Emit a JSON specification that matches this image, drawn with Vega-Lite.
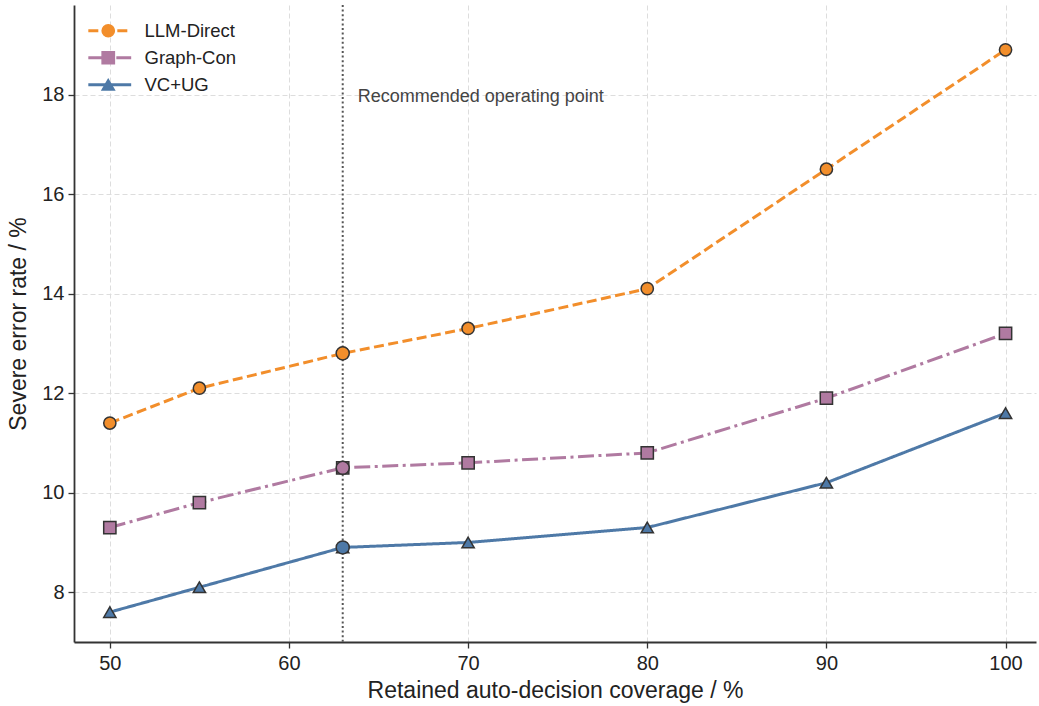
{
  "$schema": "https://vega.github.io/schema/vega-lite/v6.json",
  "width": 962,
  "height": 637,
  "autosize": {"type": "none"},
  "padding": {"left": 74, "top": 5, "right": 3, "bottom": 64},
  "background": "white",
  "config": {
    "font": "Liberation Sans",
    "view": {"stroke": null},
    "axis": {
      "domainColor": "#333333", "domainWidth": 1.8,
      "tickColor": "#333333", "tickWidth": 1.3, "tickSize": 6,
      "labelColor": "#222222", "labelFontSize": 20, "labelFont": "Liberation Sans",
      "titleColor": "#222222", "titleFontSize": 23, "titleFontWeight": "normal", "titleFont": "Liberation Sans",
      "gridColor": "#dddddd", "gridDash": [5, 3], "gridWidth": 1
    }
  },
  "datasets": {
    "series": [
      {"coverage": 50, "rate": 11.4, "method": "LLM-Direct"},
      {"coverage": 55, "rate": 12.1, "method": "LLM-Direct"},
      {"coverage": 63, "rate": 12.8, "method": "LLM-Direct"},
      {"coverage": 70, "rate": 13.3, "method": "LLM-Direct"},
      {"coverage": 80, "rate": 14.1, "method": "LLM-Direct"},
      {"coverage": 90, "rate": 16.5, "method": "LLM-Direct"},
      {"coverage": 100, "rate": 18.9, "method": "LLM-Direct"},
      {"coverage": 50, "rate": 9.3, "method": "Graph-Con"},
      {"coverage": 55, "rate": 9.8, "method": "Graph-Con"},
      {"coverage": 63, "rate": 10.5, "method": "Graph-Con"},
      {"coverage": 70, "rate": 10.6, "method": "Graph-Con"},
      {"coverage": 80, "rate": 10.8, "method": "Graph-Con"},
      {"coverage": 90, "rate": 11.9, "method": "Graph-Con"},
      {"coverage": 100, "rate": 13.2, "method": "Graph-Con"},
      {"coverage": 50, "rate": 7.6, "method": "VC+UG"},
      {"coverage": 55, "rate": 8.1, "method": "VC+UG"},
      {"coverage": 63, "rate": 8.9, "method": "VC+UG"},
      {"coverage": 70, "rate": 9.0, "method": "VC+UG"},
      {"coverage": 80, "rate": 9.3, "method": "VC+UG"},
      {"coverage": 90, "rate": 10.2, "method": "VC+UG"},
      {"coverage": 100, "rate": 11.6, "method": "VC+UG"}
    ],
    "marker": [
      {"coverage": 63, "rate": 17.95, "label": "Recommended operating point"}
    ]
  },
  "layer": [
    {
      "data": {"name": "marker"},
      "mark": {"type": "rule", "color": "#555555", "strokeWidth": 2, "strokeDash": [2, 2.6]},
      "encoding": {
        "x": {"field": "coverage", "type": "quantitative", "scale": {"domain": [48, 101.7], "nice": false},
          "axis": {"title": "Retained auto-decision coverage / %", "values": [50, 60, 70, 80, 90, 100], "grid": true, "labelPadding": 5, "titlePadding": 6}}
      }
    },
    {
      "data": {"name": "marker"},
      "mark": {"type": "text", "align": "left", "baseline": "middle", "dx": 15, "fontSize": 18, "color": "#444444", "font": "Liberation Sans"},
      "encoding": {
        "x": {"field": "coverage", "type": "quantitative"},
        "y": {"field": "rate", "type": "quantitative"},
        "text": {"field": "label"}
      }
    },
    {
      "data": {"name": "series"},
      "mark": {"type": "line", "strokeWidth": 3},
      "encoding": {
        "x": {"field": "coverage", "type": "quantitative"},
        "y": {"field": "rate", "type": "quantitative", "scale": {"domain": [7, 19.8], "nice": false, "zero": false},
          "axis": {"title": "Severe error rate / %", "values": [8, 10, 12, 14, 16, 18], "grid": true, "labelPadding": 4, "titlePadding": 11}},
        "color": {"field": "method", "type": "nominal",
          "scale": {"domain": ["LLM-Direct", "Graph-Con", "VC+UG"], "range": ["#F28E2B", "#B07AA1", "#4E79A7"]}},
        "strokeDash": {"field": "method", "type": "nominal", "sort": ["LLM-Direct", "Graph-Con", "VC+UG"],
          "scale": {"range": [[10, 4.5], [16, 4.5, 3, 4.5], [1, 0]]},
          "legend": {"title": null, "orient": "none", "legendX": 26.5, "legendY": 16.5, "padding": 0,
            "symbolType": "M-3.5,0H3.5", "symbolSize": 150, "symbolStrokeWidth": 3,
            "labelFontSize": 18.5, "labelOpacity": 0, "labelOffset": 10, "rowPadding": 8,
            "encode": {"symbols": {"update": {"stroke": {"scale": "color", "field": "value"}, "fill": {"value": "transparent"}, "strokeWidth": {"value": 3}}}}}}
      }
    },
    {
      "data": {"name": "series"},
      "mark": {"type": "point", "filled": true, "size": 150, "stroke": "#333333", "strokeWidth": 1.5, "opacity": 1},
      "encoding": {
        "x": {"field": "coverage", "type": "quantitative"},
        "y": {"field": "rate", "type": "quantitative"},
        "color": {"field": "method", "type": "nominal",
          "legend": {"title": null, "orient": "none", "legendX": 25, "legendY": 16.5, "padding": 0,
            "symbolSize": 150, "symbolStrokeColor": "#333333", "symbolStrokeWidth": 1.5, "symbolOpacity": 1,
            "labelFontSize": 18.5, "labelColor": "#222222", "labelOffset": 27, "rowPadding": 8}},
        "shape": {"field": "method", "type": "nominal",
          "scale": {"domain": ["LLM-Direct", "Graph-Con", "VC+UG"], "range": ["circle", "square", "triangle-up"]}}
      }
    },
    {
      "data": {"name": "series"},
      "transform": [{"filter": "datum.coverage == 63"}],
      "mark": {"type": "point", "shape": "circle", "filled": true, "size": 170, "stroke": "#333333", "strokeWidth": 1.5, "opacity": 1},
      "encoding": {
        "x": {"field": "coverage", "type": "quantitative"},
        "y": {"field": "rate", "type": "quantitative"},
        "color": {"field": "method", "type": "nominal"}
      }
    }
  ]
}
